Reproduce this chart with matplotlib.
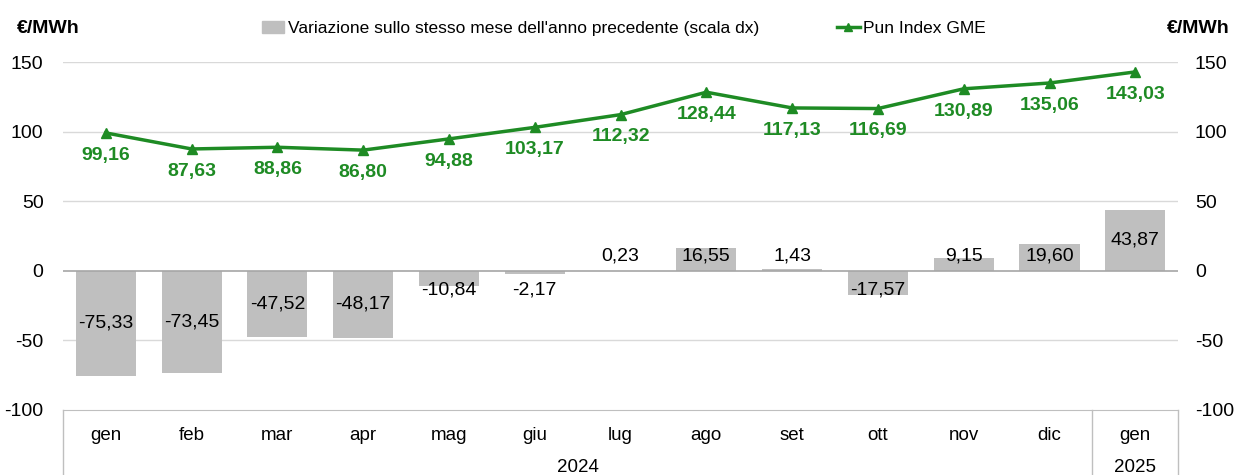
import matplotlib
matplotlib.use("Agg")
import matplotlib.pyplot as plt
from matplotlib.lines import Line2D
from matplotlib.patches import Patch
import numpy as np

plt.rcParams['font.family'] = ['Liberation Sans', 'DejaVu Sans']
plt.rcParams['axes.unicode_minus'] = False

mesi = ["gen", "feb", "mar", "apr", "mag", "giu", "lug", "ago", "set", "ott", "nov", "dic", "gen"]
anni = ["2024", "2025"]
pun = [99.16, 87.63, 88.86, 86.80, 94.88, 103.17, 112.32, 128.44, 117.13, 116.69, 130.89, 135.06, 143.03]
variazione = [-75.33, -73.45, -47.52, -48.17, -10.84, -2.17, 0.23, 16.55, 1.43, -17.57, 9.15, 19.60, 43.87]

verde = "#1E8B24"
grigio = "#BFBFBF"

def fmt(v):
    return f"{v:.2f}".replace(".", ",")

fig = plt.figure(figsize=(12.35, 4.75), dpi=100)
ax = fig.add_axes([0.051, 0.137, 0.903, 0.732])
ax2 = ax.twinx()

x = np.arange(len(mesi))

# barre sulla scala dx
ax2.bar(x, variazione, width=0.7, color=grigio, zorder=2)
for xi, v in zip(x, variazione):
    if v >= 0:
        yl = max(v / 2, 10.5)
    else:
        yl = min(v / 2, -13.5)
    ax2.text(xi, yl, fmt(v), ha="center", va="center", fontsize=14, color="black", zorder=4)
ax2.axhline(0, color="#A6A6A6", lw=1.2, zorder=3)

# linea PUN sulla scala sx, disegnata sopra
ax.set_zorder(ax2.get_zorder() + 1)
ax.patch.set_visible(False)
ax.plot(x, pun, color=verde, lw=2.5, marker="^", markersize=7, zorder=5)
for xi, v in zip(x, pun):
    ax.annotate(fmt(v), (xi, v), xytext=(0, -16), textcoords="offset points",
                ha="center", va="center", fontsize=14, fontweight="bold", color=verde)

for a in (ax, ax2):
    a.set_ylim(-100, 150)
    a.set_yticks([-100, -50, 0, 50, 100, 150])
    a.set_xlim(-0.5, len(mesi) - 0.5)
    for s in a.spines.values():
        s.set_visible(False)
    a.tick_params(axis="y", length=0, labelsize=14)

ax.tick_params(axis="y", pad=14)
ax2.tick_params(axis="y", pad=12)
ax.spines["bottom"].set_visible(True)
ax.spines["bottom"].set_color("#BFBFBF")
ax.set_xticks(x)
ax.set_xticklabels(mesi, fontsize=13.5)
ax.tick_params(axis="x", length=0, pad=12)

for g in [-50, 50, 100, 150]:
    ax2.axhline(g, color="#D9D9D9", lw=1, zorder=0)

# tabella categorie sotto l'asse
for xv in [-0.5, 11.5, 12.5]:
    ax.add_line(Line2D([xv, xv], [-100, -100 - 0.2 * 250], color="#BFBFBF", lw=1,
                       clip_on=False, transform=ax.transData))
ax.text(5.5, -100 - 0.165 * 250, anni[0], ha="center", va="center", fontsize=13.5)
ax.text(12, -100 - 0.165 * 250, anni[1], ha="center", va="center", fontsize=13.5)

fig.text(0.014, 0.94, "€/MWh", fontsize=14, fontweight="bold", ha="left", va="center")
fig.text(0.996, 0.94, "€/MWh", fontsize=14, fontweight="bold", ha="right", va="center")

handles = [Patch(color=grigio, label="Variazione sullo stesso mese dell'anno precedente (scala dx)"),
           Line2D([], [], color=verde, lw=2.5, marker="^", markersize=6, label="Pun Index GME")]
fig.legend(handles=handles, loc="center", bbox_to_anchor=(0.505, 0.94), ncol=2, frameon=False,
           fontsize=12.5, handlelength=1.3, handletextpad=0.2, columnspacing=4.5)

fig.savefig("out.png", dpi=100)
